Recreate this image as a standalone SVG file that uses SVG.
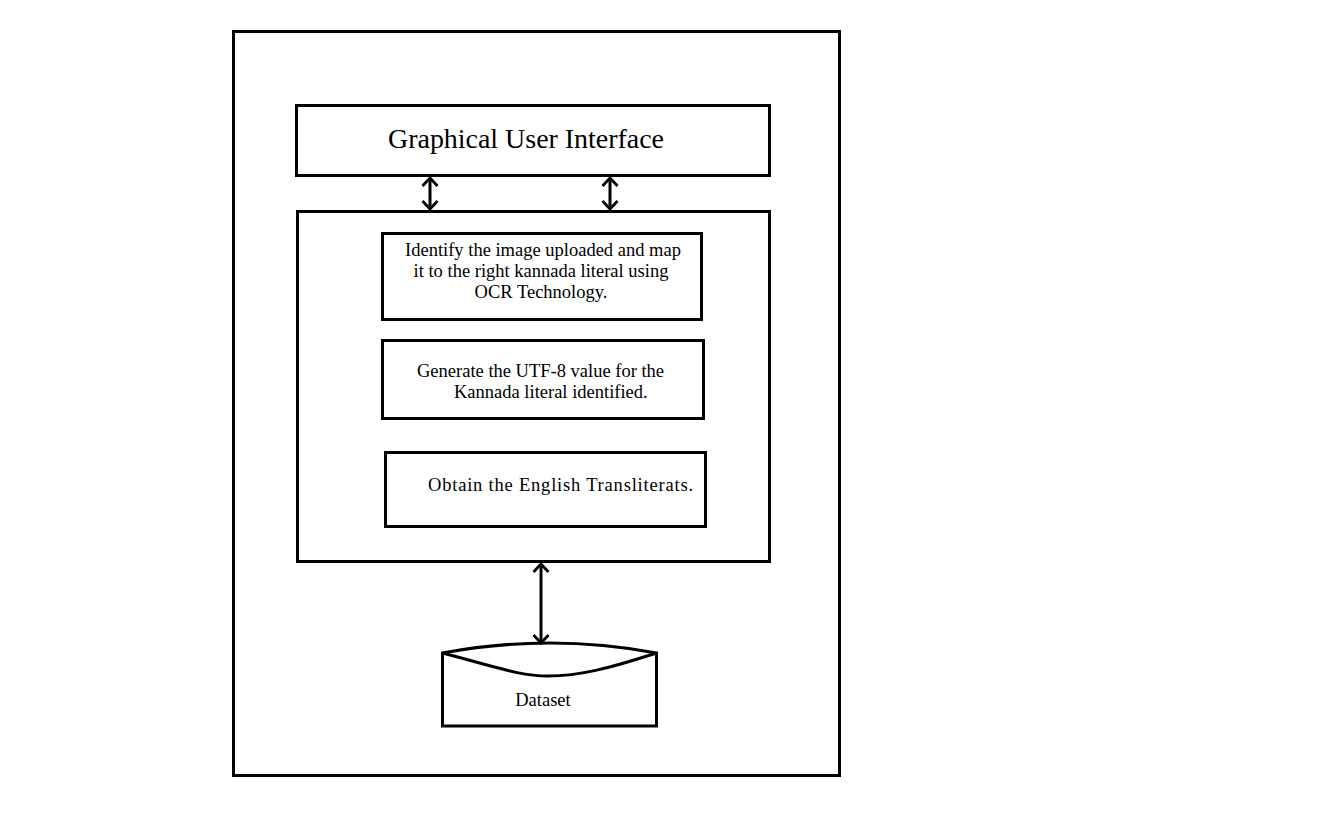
<svg xmlns="http://www.w3.org/2000/svg" width="1326" height="837" viewBox="0 0 1326 837">
<style>
.box{fill:#fff;stroke:#000;stroke-width:3}
.con{fill:none;stroke:#000;stroke-width:3}
.t{font-family:"Liberation Serif","Times New Roman",serif;fill:#000}
</style>
<defs>
<marker id="ah" viewBox="0 0 12 18" refX="10" refY="9" markerWidth="12" markerHeight="18" markerUnits="userSpaceOnUse" orient="auto-start-reverse">
<path d="M2,1.5 L10,9 L2,16.5" fill="none" stroke="#000" stroke-width="2.8"/>
</marker>
</defs>
<rect width="1326" height="837" fill="#fff"/>
<g id="outer"><rect class="box" x="233.5" y="31.5" width="606" height="744"/></g>
<g id="gui"><rect class="box" x="296.5" y="105.5" width="473" height="70"/>
<text class="t" x="526" y="148" font-size="28" text-anchor="middle" textLength="276">Graphical User Interface</text></g>
<g id="core"><rect class="box" x="297.5" y="211.5" width="472" height="350"/></g>
<g id="ocr"><rect class="box" x="382.5" y="233.5" width="319" height="86"/>
<text class="t" font-size="18.5" text-anchor="middle"><tspan x="543" y="256">Identify the image uploaded and map</tspan><tspan x="541" y="277">it to the right kannada literal using</tspan><tspan x="541" y="298">OCR Technology.</tspan></text></g>
<g id="utf"><rect class="box" x="382.5" y="340.5" width="321" height="78"/>
<text class="t" font-size="18.5"><tspan x="417" y="377">Generate the UTF-8 value for the</tspan><tspan x="454" y="398">Kannada literal identified.</tspan></text></g>
<g id="translit"><rect class="box" x="385.5" y="452.5" width="320" height="74"/>
<text class="t" font-size="18.5" x="428" y="491" textLength="265">Obtain the English Transliterats.</text></g>
<g id="dataset">
<path class="box" d="M442.5,653 Q550,633 656.5,653 L656.5,726 L442.5,726 Z"/>
<path class="con" d="M442.5,653 C500,668 520,676 548,676 C580,676 610,668 656.5,653"/>
<text class="t" font-size="18.5" x="543" y="706" text-anchor="middle">Dataset</text></g>
<g id="connectors">
<line class="con" x1="430" y1="178" x2="430" y2="209" marker-start="url(#ah)" marker-end="url(#ah)"/>
<line class="con" x1="610" y1="178" x2="610" y2="209" marker-start="url(#ah)" marker-end="url(#ah)"/>
<line class="con" x1="541" y1="564" x2="541" y2="643" marker-start="url(#ah)" marker-end="url(#ah)"/>
</g>
</svg>
